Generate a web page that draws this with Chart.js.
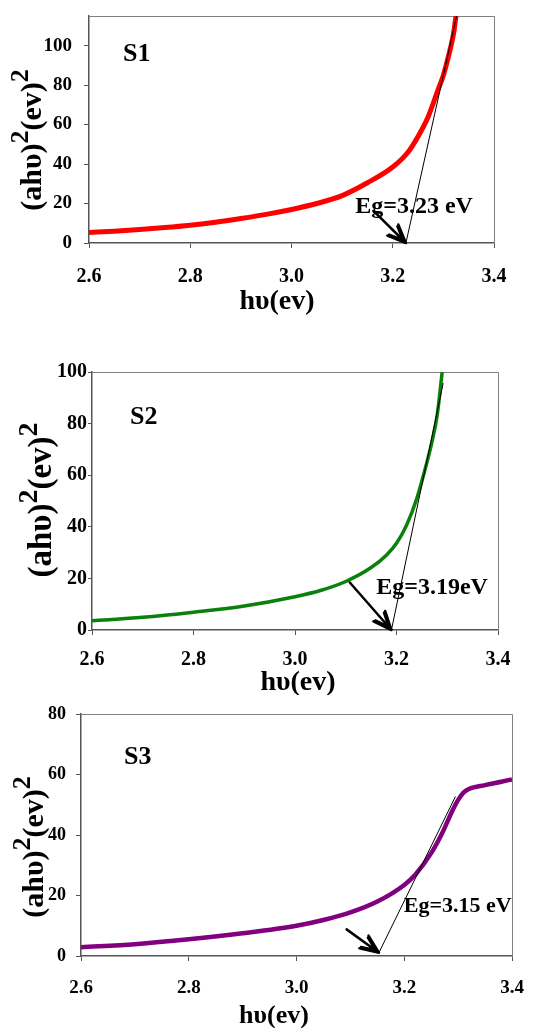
<!DOCTYPE html>
<html>
<head>
<meta charset="utf-8">
<script src="https://cdn.jsdelivr.net/npm/chart.js"></script>
<style>
  body { margin: 0; background: #fff; width: 533px; height: 1028px; overflow: hidden; position: relative; }
  .panel { position: absolute; left: 0; width: 533px; }
</style>
</head>
<body>
<div class="panel" style="top:0;height:320px"><canvas id="c1"></canvas></div>
<div class="panel" style="top:350px;height:345px"><canvas id="c2"></canvas></div>
<div class="panel" style="top:695px;height:333px"><canvas id="c3"></canvas></div>
<script>
// shared x axis ticks (photon energy, eV)
const xTicks = [2.6, 2.8, 3.0, 3.2, 3.4];

// S1
const s1Energy = [2.60, 2.65, 2.70, 2.75, 2.80, 2.85, 2.90, 2.95, 3.00, 3.05, 3.10, 3.15, 3.20, 3.23, 3.25, 3.27, 3.29, 3.30, 3.31, 3.32, 3.325];
const s1Abs = [5.3, 6.0, 6.8, 7.8, 9.0, 10.5, 12.4, 14.5, 17.0, 20.0, 24.0, 30.5, 38.5, 46, 54, 64, 78, 85, 94.5, 106, 115];
const s1Ticks = [0, 20, 40, 60, 80, 100];
const s1Tangent = [[3.226, 0], [3.326, 115]];
const s1Arrow = [[3.162, 16.3], [3.226, 0]];

// S2
const s2Energy = [2.60, 2.70, 2.80, 2.90, 3.00, 3.05, 3.10, 3.15, 3.18, 3.20, 3.22, 3.24, 3.26, 3.27, 3.28, 3.29];
const s2Abs = [3.6, 4.9, 6.9, 9.3, 12.9, 15.3, 18.8, 24.2, 29, 33.6, 40.7, 51, 65, 73, 83, 100];
const s2Ticks = [0, 20, 40, 60, 80, 100];
const s2Tangent = [[3.19, 0], [3.292, 95.7]];
const s2Arrow = [[3.108, 18.4], [3.19, 0]];

// S3
const s3Energy = [2.60, 2.70, 2.80, 2.90, 3.00, 3.05, 3.10, 3.15, 3.20, 3.22, 3.25, 3.27, 3.29, 3.30, 3.31, 3.32, 3.35, 3.38, 3.40];
const s3Abs = [2.9, 3.9, 5.5, 7.5, 10, 11.9, 14.4, 18, 23.5, 26.8, 34, 40.5, 48.3, 51.6, 54, 55.2, 56.5, 57.6, 58.4];
const s3Ticks = [0, 20, 40, 60, 80];
const s3Tangent = [[3.153, 1.1], [3.295, 52.7]];
const s3Arrow = [[3.093, 8.8], [3.153, 1.1]];

const serif = '"Liberation Serif", "Times New Roman", serif';

const panels = [
  {
    id: 'c1', xs: s1Energy, ys: s1Abs, yTicks: s1Ticks, yMax: 115, color: '#ff0000', lineW: 5,
    tangent: s1Tangent, arrow: s1Arrow, name: 'S1', gap: 'Eg=3.23 eV', gapAt: [3.126, 18.3], gapSize: 24,
    area: { l: 89, t: 16, r: 494, b: 243, h: 320 },
    yTick: { size: 19, pad: 12, len: 5 }, xTick: { size: 20, pad: 17 },
    xTitle: { x: 277, y: 302, size: 28 }, yTitle: { x: 33, y: 140, size: 30 },
    nameAt: { x: 123, y: 54 }
  },
  {
    id: 'c2', xs: s2Energy, ys: s2Abs, yTicks: s2Ticks, yMax: 100, color: '#0b800b', lineW: 3.5,
    tangent: s2Tangent, arrow: s2Arrow, name: 'S2', gap: 'Eg=3.19eV', gapAt: [3.16, 16.2], gapSize: 24,
    area: { l: 92, t: 22, r: 498, b: 280, h: 345 },
    yTick: { size: 20, pad: 1, len: 4 }, xTick: { size: 20, pad: 13 },
    xTitle: { x: 298, y: 333, size: 28 }, yTitle: { x: 42, y: 150, size: 33 },
    nameAt: { x: 130, y: 67 }
  },
  {
    id: 'c3', xs: s3Energy, ys: s3Abs, yTicks: s3Ticks, yMax: 80, color: '#800080', lineW: 4.5,
    tangent: s3Tangent, arrow: s3Arrow, name: 'S3', gap: 'Eg=3.15 eV', gapAt: [3.199, 16.3], gapSize: 22,
    area: { l: 81, t: 19, r: 512, b: 261, h: 333 },
    yTick: { size: 18, pad: 10, len: 5 }, xTick: { size: 19, pad: 16 },
    xTitle: { x: 274, y: 321, size: 26 }, yTitle: { x: 35, y: 152, size: 30 },
    nameAt: { x: 124, y: 62 }
  }
];

function drawYTitle(ctx, p) {
  const parts = [['(ahυ)', false], ['2', true], ['(ev)', false], ['2', true]];
  const main = 'bold ' + p.yTitle.size + 'px ' + serif;
  const sup = 'bold ' + Math.round(p.yTitle.size * 0.85) + 'px ' + serif;
  ctx.save();
  ctx.translate(p.yTitle.x, p.yTitle.y);
  ctx.rotate(-Math.PI / 2);
  let total = 0;
  parts.forEach(([t, s]) => { ctx.font = s ? sup : main; total += ctx.measureText(t).width; });
  let x = -total / 2;
  ctx.fillStyle = '#000';
  ctx.textBaseline = 'middle';
  ctx.textAlign = 'left';
  parts.forEach(([t, s]) => {
    ctx.font = s ? sup : main;
    ctx.fillText(t, x, s ? -p.yTitle.size * 0.38 : 0);
    x += ctx.measureText(t).width;
  });
  ctx.restore();
}

function drawArrow(ctx, x0, y0, x1, y1) {
  const ang = Math.atan2(y1 - y0, x1 - x0);
  ctx.save();
  ctx.strokeStyle = '#000';
  ctx.lineWidth = 2.5;
  ctx.lineCap = 'round';
  ctx.beginPath();
  ctx.moveTo(x0, y0);
  ctx.lineTo(x1, y1);
  [0.4, -0.4].forEach(d => {
    [20, 15].forEach((len, k) => {
      const bx = x1 - Math.cos(ang) * k * 4;
      const by = y1 - Math.sin(ang) * k * 4;
      ctx.moveTo(bx, by);
      ctx.lineTo(bx - Math.cos(ang + d) * len, by - Math.sin(ang + d) * len);
    });
  });
  ctx.stroke();
  ctx.restore();
}

const decor = {
  id: 'decor',
  beforeDatasetsDraw(chart, args, opts) {
    const { ctx, chartArea: a } = chart;
    ctx.save();
    ctx.strokeStyle = '#808080';
    ctx.lineWidth = 1;
    ctx.beginPath();
    ctx.moveTo(a.left, a.top + 0.5);
    ctx.lineTo(a.right + 0.5, a.top + 0.5);
    ctx.lineTo(a.right + 0.5, a.bottom);
    ctx.stroke();
    ctx.restore();
  },
  afterDraw(chart, args, opts) {
    const p = opts.panel;
    const { ctx, scales } = chart;
    const sx = scales.x, sy = scales.y;
    drawArrow(ctx,
      sx.getPixelForValue(p.arrow[0][0]), sy.getPixelForValue(p.arrow[0][1]),
      sx.getPixelForValue(p.arrow[1][0]), sy.getPixelForValue(p.arrow[1][1]));
    ctx.save();
    ctx.fillStyle = '#000';
    ctx.textBaseline = 'middle';
    ctx.textAlign = 'left';
    ctx.font = 'bold ' + p.gapSize + 'px ' + serif;
    ctx.fillText(p.gap, sx.getPixelForValue(p.gapAt[0]), sy.getPixelForValue(p.gapAt[1]));
    ctx.font = 'bold 26px ' + serif;
    ctx.fillText(p.name, p.nameAt.x, p.nameAt.y);
    ctx.textAlign = 'center';
    ctx.font = 'bold ' + p.xTitle.size + 'px ' + serif;
    ctx.fillText('hυ(ev)', p.xTitle.x, p.xTitle.y);
    ctx.restore();
    drawYTitle(ctx, p);
  }
};

panels.forEach(p => {
  new Chart(document.getElementById(p.id), {
    type: 'line',
    data: {
      datasets: [
        {
          data: p.xs.map((x, i) => ({ x: x, y: p.ys[i] })),
          borderColor: p.color,
          borderWidth: p.lineW,
          pointRadius: 0,
          cubicInterpolationMode: 'monotone',
          order: 2
        },
        {
          data: p.tangent.map(([x, y]) => ({ x: x, y: y })),
          borderColor: '#000',
          borderWidth: 1,
          pointRadius: 0,
          order: 1
        }
      ]
    },
    options: {
      responsive: true,
      maintainAspectRatio: false,
      animation: false,
      events: [],
      layout: { padding: { left: 0, top: p.area.t, right: 533 - p.area.r, bottom: 0 } },
      plugins: { legend: { display: false }, tooltip: { enabled: false }, decor: { panel: p } },
      scales: {
        x: {
          type: 'linear',
          min: 2.6,
          max: 3.4,
          afterBuildTicks: s => { s.ticks = xTicks.map(v => ({ value: v })); },
          afterFit: s => { s.height = p.area.h - p.area.b; s.paddingLeft = 0; s.paddingRight = 0; },
          ticks: {
            callback: v => v.toFixed(1),
            color: '#000',
            font: { family: serif, size: p.xTick.size, weight: 'bold' },
            padding: p.xTick.pad,
            maxRotation: 0,
            autoSkip: false
          },
          grid: { drawOnChartArea: false, drawTicks: true, tickLength: 5, color: '#555' },
          border: { color: '#555', width: 1.5 }
        },
        y: {
          min: 0,
          max: p.yMax,
          afterBuildTicks: s => { s.ticks = p.yTicks.map(v => ({ value: v })); },
          afterFit: s => { s.width = p.area.l; s.paddingTop = 0; s.paddingBottom = 0; },
          ticks: {
            color: '#000',
            font: { family: serif, size: p.yTick.size, weight: 'bold' },
            padding: p.yTick.pad
          },
          grid: { drawOnChartArea: false, drawTicks: true, tickLength: p.yTick.len, color: '#555' },
          border: { color: '#555', width: 1.5 }
        }
      }
    },
    plugins: [decor]
  });
});
</script>
</body>
</html>
